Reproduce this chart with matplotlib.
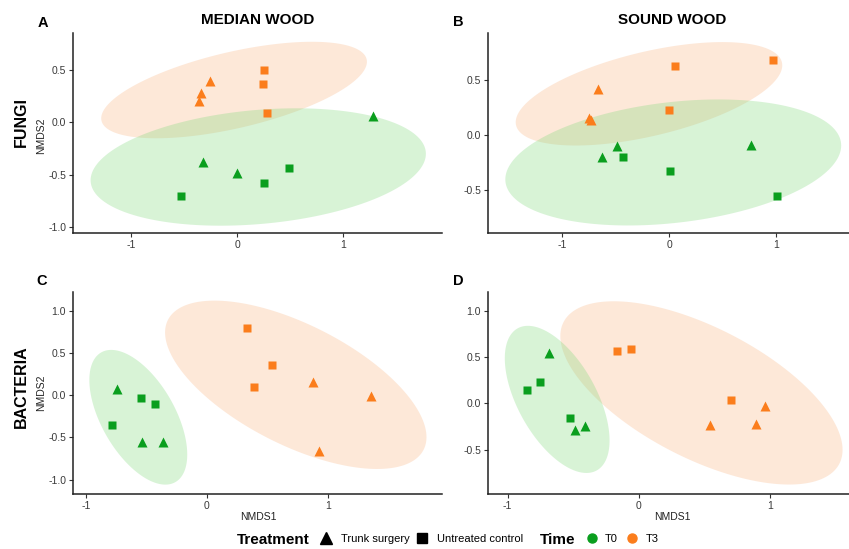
import numpy as np
import matplotlib
matplotlib.use("Agg")
import matplotlib.pyplot as plt
from matplotlib.lines import Line2D

plt.rcParams['font.family'] = ['Liberation Sans', 'DejaVu Sans']

# ---------------- data ----------------
A_T0_tri_x = [1.28, -0.32, 0.00]
A_T0_tri_y = [0.06, -0.38, -0.49]
A_T0_sq_x = [-0.53, 0.25, 0.49]
A_T0_sq_y = [-0.71, -0.585, -0.44]
A_T3_tri_x = [-0.26, -0.34, -0.36]
A_T3_tri_y = [0.40, 0.28, 0.20]
A_T3_sq_x = [0.25, 0.24, 0.28]
A_T3_sq_y = [0.50, 0.37, 0.086]

B_T0_tri_x = [-0.49, -0.626, 0.766]
B_T0_tri_y = [-0.10, -0.20, -0.095]
B_T0_sq_x = [-0.436, 0.006, 1.01]
B_T0_sq_y = [-0.198, -0.326, -0.554]
B_T3_tri_x = [-0.665, -0.75, -0.73]
B_T3_tri_y = [0.41, 0.15, 0.135]
B_T3_sq_x = [0.056, 0.97, 0.0]
B_T3_sq_y = [0.62, 0.68, 0.225]

C_T0_tri_x = [-0.745, -0.54, -0.366]
C_T0_tri_y = [0.07, -0.56, -0.56]
C_T0_sq_x = [-0.547, -0.426, -0.787]
C_T0_sq_y = [-0.035, -0.10, -0.354]
C_T3_tri_x = [0.872, 1.353, 0.927]
C_T3_tri_y = [0.16, -0.01, -0.66]
C_T3_sq_x = [0.333, 0.534, 0.385]
C_T3_sq_y = [0.79, 0.362, 0.098]

D_T0_tri_x = [-0.683, -0.489, -0.41]
D_T0_tri_y = [0.54, -0.29, -0.25]
D_T0_sq_x = [-0.856, -0.752, -0.527]
D_T0_sq_y = [0.147, 0.233, -0.165]
D_T3_tri_x = [0.543, 0.889, 0.963]
D_T3_tri_y = [-0.235, -0.225, -0.028]
D_T3_sq_x = [-0.171, -0.061, 0.703]
D_T3_sq_y = [0.563, 0.584, 0.032]

# 95% ellipses per Time group: centre (x, y), half extent in x, half extent in y, covariance term
A_T0_ell = [0.197, -0.428, 1.581, 0.562, 0.20]
A_T3_ell = [-0.031, 0.309, 1.253, 0.462, 0.339]
B_T0_ell = [0.037, -0.249, 1.570, 0.569, 0.24]
B_T3_ell = [-0.19, 0.371, 1.246, 0.467, 0.32]
C_T0_ell = [-0.567, -0.262, 0.404, 0.797, -0.178]
C_T3_ell = [0.733, 0.122, 1.079, 0.996, -0.668]
D_T0_ell = [-0.623, 0.041, 0.399, 0.794, -0.177]
D_T3_ell = [0.476, 0.111, 1.075, 0.989, -0.66]

panel_letters = ['A', 'B', 'C', 'D']
column_titles = ['MEDIAN WOOD', 'SOUND WOOD']
row_titles = ['FUNGI', 'BACTERIA']
time_labels = ['T0', 'T3']
treatment_labels = ['Trunk surgery', 'Untreated control']

A_xlim = [-1.55, 1.93]; A_ylim = [-1.06, 0.855]
B_xlim = [-1.695, 1.68]; B_ylim = [-0.886, 0.92]
C_xlim = [-1.106, 1.94]; C_ylim = [-1.17, 1.22]
D_xlim = [-1.15, 1.60]; D_ylim = [-0.98, 1.20]

A_yticks = [-1.0, -0.5, 0.0, 0.5]
B_yticks = [-0.5, 0.0, 0.5]
C_yticks = [-1.0, -0.5, 0.0, 0.5, 1.0]
D_yticks = [-0.5, 0.0, 0.5, 1.0]
A_xticks = [-1, 0, 1]
B_xticks = [-1, 0, 1]
C_xticks = [-1, 0, 1]
D_xticks = [-1, 0, 1]

GREEN = '#0A9E1E'
ORANGE = '#FB7D1C'
GREEN_FILL = '#7FD87A'
ORANGE_FILL = '#F9A466'


def ellipse_xy(params, segments=181):
    cx, cy, hx, hy, k = params
    M = np.array([[hx ** 2, k], [k, hy ** 2]])
    L = np.linalg.cholesky(M)
    t = np.linspace(0, 2 * np.pi, segments)
    circ = np.vstack([np.cos(t), np.sin(t)])
    pts = L @ circ
    return cx + pts[0], cy + pts[1]


W, H = 849, 549
fig = plt.figure(figsize=(W / 100, H / 100), dpi=100)


def px_axes(l, r, t, b):
    return fig.add_axes([l / W, 1 - b / H, (r - l) / W, (b - t) / H])


panels = {
    'A': dict(box=(73, 442, 33, 233), xlim=A_xlim, ylim=A_ylim, xt=A_xticks, yt=A_yticks,
              T0=(A_T0_tri_x, A_T0_tri_y, A_T0_sq_x, A_T0_sq_y),
              T3=(A_T3_tri_x, A_T3_tri_y, A_T3_sq_x, A_T3_sq_y), E0=A_T0_ell, E3=A_T3_ell),
    'B': dict(box=(488, 849, 33, 233), xlim=B_xlim, ylim=B_ylim, xt=B_xticks, yt=B_yticks,
              T0=(B_T0_tri_x, B_T0_tri_y, B_T0_sq_x, B_T0_sq_y),
              T3=(B_T3_tri_x, B_T3_tri_y, B_T3_sq_x, B_T3_sq_y), E0=B_T0_ell, E3=B_T3_ell),
    'C': dict(box=(73, 442, 292, 494), xlim=C_xlim, ylim=C_ylim, xt=C_xticks, yt=C_yticks,
              T0=(C_T0_tri_x, C_T0_tri_y, C_T0_sq_x, C_T0_sq_y),
              T3=(C_T3_tri_x, C_T3_tri_y, C_T3_sq_x, C_T3_sq_y), E0=C_T0_ell, E3=C_T3_ell),
    'D': dict(box=(488, 849, 292, 494), xlim=D_xlim, ylim=D_ylim, xt=D_xticks, yt=D_yticks,
              T0=(D_T0_tri_x, D_T0_tri_y, D_T0_sq_x, D_T0_sq_y),
              T3=(D_T3_tri_x, D_T3_tri_y, D_T3_sq_x, D_T3_sq_y), E0=D_T0_ell, E3=D_T3_ell),
}

for key in panel_letters:
    P = panels[key]
    ax = px_axes(*P['box'])
    for ek, fill, a in (('E3', ORANGE_FILL, 0.25), ('E0', GREEN_FILL, 0.30)):
        ex, ey = ellipse_xy(P[ek])
        ax.fill(ex, ey, color=fill, alpha=a, lw=0, zorder=1)
    for tk, col in (('T0', GREEN), ('T3', ORANGE)):
        tx, ty, sx, sy = P[tk]
        ax.plot(tx, ty, ls='none', marker='^', ms=7.5, color=col, mec='none', zorder=3)
        ax.plot(sx, sy, ls='none', marker='s', ms=6.2, color=col, mec='none', zorder=3)
    ax.set_xlim(P['xlim'])
    ax.set_ylim(P['ylim'])
    ax.set_xticks(P['xt'])
    ax.set_xticklabels([f'{v:g}' for v in P['xt']])
    ax.set_yticks(P['yt'])
    ax.set_yticklabels([f'{v:.1f}' for v in P['yt']])
    for s in ('top', 'right'):
        ax.spines[s].set_visible(False)
    for s in ('left', 'bottom'):
        ax.spines[s].set_linewidth(1.1)
        ax.spines[s].set_color('#222222')
    ax.tick_params(axis='both', length=3, width=0.8, color='#333333', labelsize=7.5,
                   labelcolor='#3a3a3a', pad=2)
    ax.set_facecolor('none')

for lab, (x, y) in zip(panel_letters, [(43, 23), (458, 22), (42, 281), (458, 281)]):
    fig.text(x / W, 1 - y / H, lab, ha='center', va='center', fontsize=10.5, fontweight='bold')

for lab, x in zip(column_titles, [257.5, 672]):
    fig.text(x / W, 1 - 20.5 / H, lab, ha='center', va='center', fontsize=11, fontweight='bold')

for lab, y in zip(row_titles, [122, 387]):
    fig.text(21 / W, 1 - y / H, lab, ha='center', va='center', rotation=90, fontsize=11.5,
             fontweight='bold')

for y in (136, 393):
    fig.text(41.5 / W, 1 - y / H, 'NMDS2', ha='center', va='center', rotation=90, fontsize=7.5,
             color='#222222')
for x in (258, 672):
    fig.text(x / W, 1 - 517 / H, 'NMDS1', ha='center', va='center', fontsize=7.5, color='#222222')

ly = 1 - 539.5 / H
fig.text(237 / W, ly, 'Treatment', ha='left', va='center', fontsize=11, fontweight='bold')
fig.add_artist(Line2D([326 / W], [ly + 0.002], marker='^', ms=8, color='black', ls='none',
                      transform=fig.transFigure))
fig.text(341 / W, ly, treatment_labels[0], ha='left', va='center', fontsize=8)
fig.add_artist(Line2D([422 / W], [ly + 0.002], marker='s', ms=6.5, color='black', ls='none',
                      transform=fig.transFigure))
fig.text(437 / W, ly, treatment_labels[1], ha='left', va='center', fontsize=8)
fig.text(540 / W, ly, 'Time', ha='left', va='center', fontsize=11, fontweight='bold')
fig.add_artist(Line2D([592 / W], [ly + 0.002], marker='o', ms=6.5, color=GREEN, ls='none',
                      transform=fig.transFigure))
fig.text(605 / W, ly, time_labels[0], ha='left', va='center', fontsize=8)
fig.add_artist(Line2D([632 / W], [ly + 0.002], marker='o', ms=6.5, color=ORANGE, ls='none',
                      transform=fig.transFigure))
fig.text(646 / W, ly, time_labels[1], ha='left', va='center', fontsize=8)

fig.savefig('out.png', dpi=100)
